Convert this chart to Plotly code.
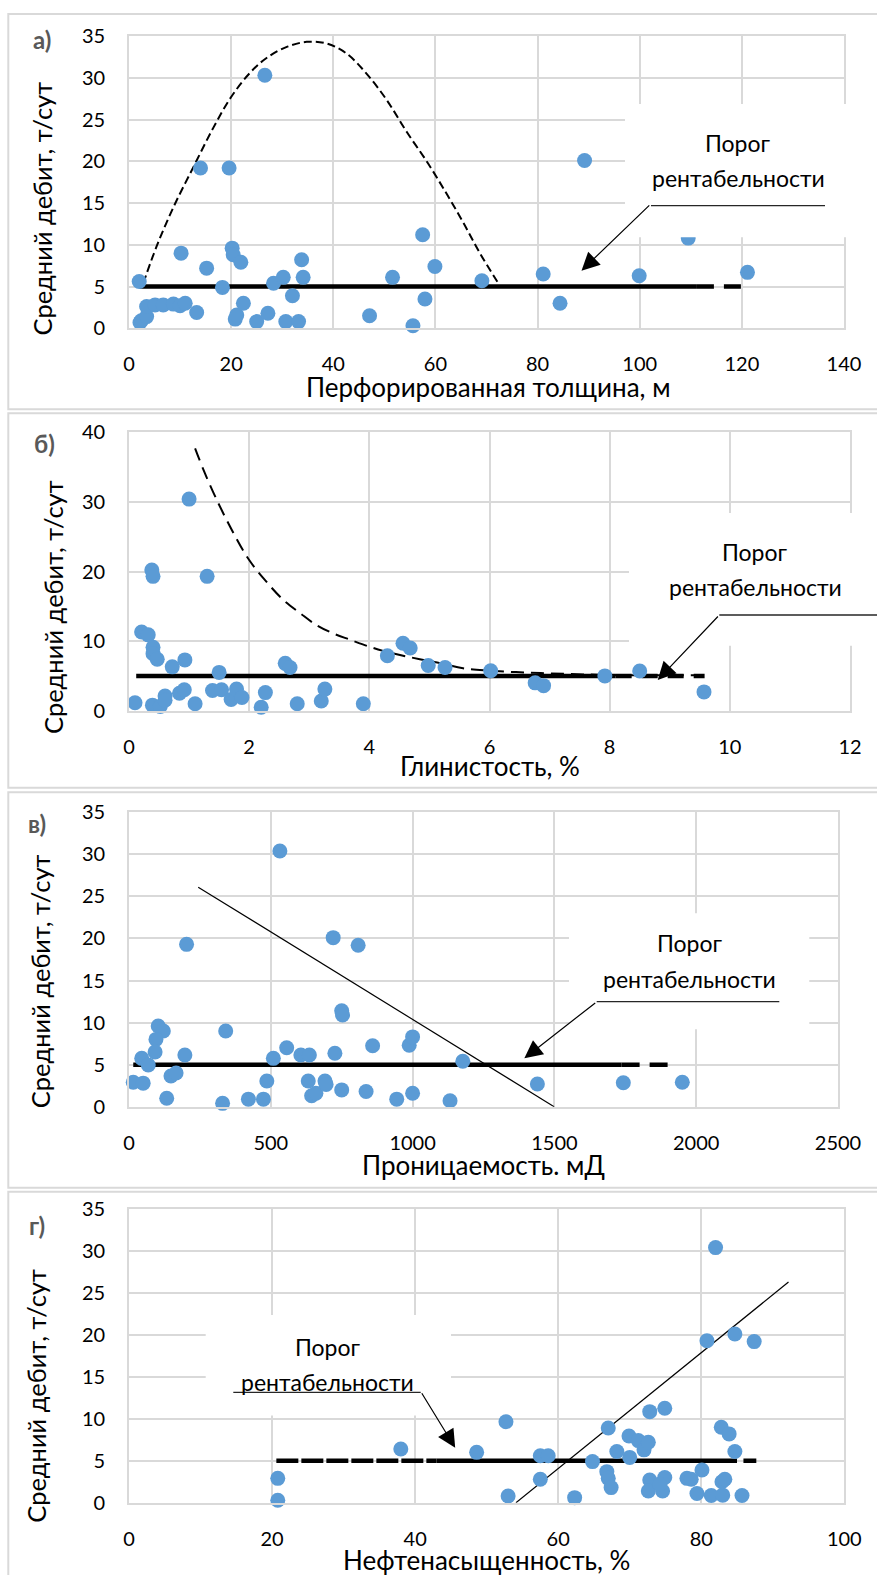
import plotly.graph_objects as go

# ---------------- data ----------------
# a) perforated thickness, m  vs  average rate, t/day
a_x = [2.0, 2.15, 2.4, 3.45, 3.45, 5.1, 6.7, 8.7, 10.0, 11.0, 13.25, 10.2, 14.0, 15.2, 19.6, 18.3,
       20.2, 20.4, 21.9, 20.8, 21.1, 22.4, 26.6, 25.0, 27.2, 28.3, 30.2, 32.0, 30.7, 33.2, 33.8,
       34.1, 47.1, 51.6, 57.5, 57.95, 55.6, 59.9, 69.1, 81.1, 84.4, 89.2, 99.9, 109.5, 121.1]
a_y = [5.6, 0.7, 0.9, 1.4, 2.6, 2.8, 2.8, 2.9, 2.7, 3.0, 1.9, 9.0, 19.2, 7.2, 19.2, 4.9,
       9.6, 8.8, 7.9, 1.1, 1.6, 3.0, 30.3, 0.8, 1.8, 5.4, 6.1, 3.9, 0.8, 0.8, 8.2,
       6.1, 1.5, 6.1, 11.2, 3.5, 0.3, 7.4, 5.7, 6.5, 3.0, 20.1, 6.3, 10.8, 6.7]
a_env_x = [2.8, 5.4, 8.7, 12.6, 16.5, 20.0, 23.7, 27.0, 30.9, 34.8, 38.7, 42.6, 46.5, 50.5,
           54.4, 58.6, 62.2, 65.5, 68.7, 72.3]
a_env_y = [5.4, 9.8, 14.5, 19.3, 24.0, 27.7, 30.6, 32.4, 33.7, 34.3, 34.1, 32.9, 30.5, 27.3,
           23.5, 19.7, 16.1, 12.6, 9.0, 5.4]
a_thr_x = [2.0, 111.2, 121.3]

# б) clay content, %
b_x = [0.1, 0.21, 0.32, 0.38, 0.40, 0.40, 0.40, 0.47, 0.39, 0.52, 0.6, 0.6, 0.72, 0.84, 0.92,
       0.93, 1.0, 1.1, 1.3, 1.39, 1.5, 1.54, 1.7, 1.79, 1.88, 2.2, 2.27, 2.6, 2.68, 2.8, 3.2,
       3.26, 3.9, 4.3, 4.56, 4.68, 4.98, 5.26, 6.02, 6.76, 6.9, 7.92, 8.5, 9.57]
b_y = [1.15, 11.3, 10.9, 20.2, 19.3, 9.1, 8.2, 7.4, 0.8, 0.6, 2.1, 1.5, 6.3, 2.5, 3.0,
       7.3, 30.4, 1.0, 19.3, 2.9, 5.5, 3.0, 1.6, 3.1, 1.9, 0.5, 2.6, 6.8, 6.2, 1.0, 1.4,
       3.1, 1.0, 7.9, 9.7, 9.0, 6.5, 6.2, 5.75, 4.0, 3.6, 5.0, 5.7, 2.7]
b_env_x = [1.10, 1.24, 1.46, 1.74, 2.0, 2.29, 2.57, 2.85, 3.12, 3.40, 3.68, 4.0, 4.23, 4.51,
           4.84, 5.2, 5.56, 6.0, 6.67, 7.34, 8.0, 9.58]
b_env_y = [37.7, 34.6, 30.3, 25.5, 21.65, 18.5, 15.9, 14.0, 12.3, 11.1, 10.2, 9.2, 8.6, 8.0,
           7.4, 6.8, 6.1, 5.75, 5.46, 5.27, 5.13, 5.08]
b_thr_x = [0.12, 8.1, 9.58]

# в) permeability, mD
c_x = [15, 50, 45, 68, 103, 121, 95, 92, 133, 148, 166, 203, 197, 330, 341, 421, 474, 486, 509,
       532, 556, 606, 636, 632, 644, 659, 691, 695, 720, 726, 750, 753, 750, 808, 836, 859, 944,
       988, 1000, 1000, 1132, 1177, 1440, 1743, 1951]
c_y = [2.9, 2.8, 5.75, 4.96, 9.6, 9.0, 8.0, 6.5, 1.0, 3.65, 4.0, 19.3, 6.15, 0.4, 9.0, 0.9, 0.9,
       3.05, 5.75, 30.4, 7.0, 6.15, 6.15, 3.05, 1.3, 1.6, 3.05, 2.65, 20.1, 6.35, 11.4, 10.9, 2.0,
       19.2, 1.8, 7.25, 0.9, 7.3, 8.3, 1.6, 0.7, 5.4, 2.7, 2.85, 2.9]
c_trend_x = [244, 1499]
c_trend_y = [26.1, 0.0]
c_thr_x = [15, 1737, 1933]

# г) oil saturation, %
d_x = [20.8, 20.8, 38.0, 48.6, 52.7, 53.0, 57.5, 58.6, 57.5, 62.3, 64.8, 66.8, 67.0, 67.4, 67.0,
       68.2, 69.9, 70.0, 71.2, 72.0, 72.6, 72.8, 74.9, 72.8, 72.6, 74.6, 74.9, 74.2, 78.0, 78.6,
       80.1, 79.4, 81.4, 83.0, 82.9, 83.3, 85.7, 82.8, 83.9, 84.7, 80.8, 82.0, 84.7, 87.4]
d_y = [2.9, 0.3, 6.4, 6.0, 9.65, 0.8, 5.6, 5.6, 2.8, 0.6, 4.9, 3.7, 2.9, 1.8, 8.9,
       6.1, 7.95, 5.4, 7.4, 6.3, 7.2, 10.85, 11.25, 2.7, 1.4, 1.4, 3.0, 2.2, 2.9, 2.8,
       3.9, 1.1, 0.85, 0.9, 2.5, 2.8, 0.85, 9.0, 8.2, 6.1, 19.3, 30.4, 20.1, 19.2]
d_trend_x = [54.1, 92.2]
d_trend_y = [0.0, 26.3]
d_thr_x = [20.6, 43.0, 85.0, 85.9, 87.7]

threshold = 5.0

x_titles = ["Перфорированная толщина, м", "Глинистость, %", "Проницаемость. мД", "Нефтенасыщенность, %"]
y_title = "Средний дебит, т/сут"
panel_tags = ["а)", "б)", "в)", "г)"]
note_lines = ["Порог", "рентабельности"]

# ---------------- layout helpers ----------------
W, H = 877, 1575
FONT = "Lato"
BLUE = "#5B9BD5"
GRID = "#d9d9d9"


def fx(p):
    return p / W


def fy(p):
    return 1 - p / H


fig = go.Figure()

# plot-area pixel boxes (left, right, top, bottom) and axis settings per panel
panels = [
    dict(box=(129, 844, 36, 328.3), xr=[0, 140], xd=20, yr=[0, 35], yd=5),
    dict(box=(129, 850, 432.3, 710.7), xr=[0, 12], xd=2, yr=[0, 40], yd=10),
    dict(box=(129, 838, 812.3, 1106.7), xr=[0, 2500], xd=500, yr=[0, 35], yd=5),
    dict(box=(129, 844.3, 1209, 1502.7), xr=[0, 100], xd=20, yr=[0, 35], yd=5),
]

for i, p in enumerate(panels, start=1):
    l, r, t, b = p["box"]
    sfx = "" if i == 1 else str(i)
    common = dict(showgrid=True, gridcolor=GRID, gridwidth=1.8, zeroline=False,
                  showline=True, linecolor=GRID, linewidth=1.8, mirror=True,
                  automargin=False, ticks="",
                  tickfont=dict(family=FONT, size=20, color="#000000"))
    fig.layout["xaxis" + sfx] = dict(domain=[fx(l), fx(r)], range=p["xr"], dtick=p["xd"],
                                     tick0=0, anchor="y" + sfx, ticklabelstandoff=17, **common)
    fig.layout["yaxis" + sfx] = dict(domain=[fy(b), fy(t)], range=p["yr"], dtick=p["yd"],
                                     tick0=0, anchor="x" + sfx, ticklabelstandoff=18, **common)


def add_scatter(i, xs, ys):
    sfx = "" if i == 1 else str(i)
    fig.add_trace(go.Scatter(x=xs, y=ys, mode="markers", xaxis="x" + sfx, yaxis="y" + sfx,
                             marker=dict(color=BLUE, size=15, line=dict(width=0)),
                             cliponaxis=False, showlegend=False, hoverinfo="x+y"))


def add_line(i, xs, ys, width, dash="solid", shape="linear"):
    sfx = "" if i == 1 else str(i)
    fig.add_trace(go.Scatter(x=xs, y=ys, mode="lines", xaxis="x" + sfx, yaxis="y" + sfx,
                             line=dict(color="black", width=width, dash=dash, shape=shape),
                             showlegend=False, hoverinfo="skip"))


# a) threshold, envelope, wells
add_line(1, a_thr_x[0:2], [threshold] * 2, 4.5)
add_line(1, a_thr_x[1:3], [threshold] * 2, 4.5, dash="17px,10px")
add_line(1, a_env_x, a_env_y, 2, dash="8px,4px", shape="spline")
add_scatter(1, a_x, a_y)

# б)
add_line(2, b_thr_x[0:2], [threshold] * 2, 4.5)
add_line(2, b_thr_x[1:3], [threshold] * 2, 4.5, dash="16px,10px")
add_line(2, b_env_x, b_env_y, 2, dash="13px,7px", shape="spline")
add_scatter(2, b_x, b_y)

# в)
add_line(3, c_thr_x[0:2], [threshold] * 2, 4.5)
add_line(3, c_thr_x[1:3], [threshold] * 2, 4.5, dash="18px,10px")
add_line(3, c_trend_x, c_trend_y, 1.2)
add_scatter(3, c_x, c_y)

# г)
add_line(4, d_thr_x[0:2], [threshold] * 2, 4.5, dash="22px,3px")
add_line(4, d_thr_x[1:3], [threshold] * 2, 4.5)
add_line(4, d_thr_x[3:5], [threshold] * 2, 4.5)
add_line(4, d_trend_x, d_trend_y, 1.2)
add_scatter(4, d_x, d_y)

shapes = []
annotations = []

# outer frames of the four charts
frames = [(8.3, 14, 890, 409.3), (8.3, 413.3, 890, 787.7),
          (8.3, 792.3, 890, 1187.7), (8.3, 1191.7, 890, 1590)]
for (l, t, r, b) in frames:
    shapes.append(dict(type="rect", xref="paper", yref="paper", x0=fx(l), x1=fx(r),
                       y0=fy(b), y1=fy(t), line=dict(color=GRID, width=2), layer="below"))

# callout boxes: white background, label, underline and arrow
callouts = [
    dict(box=(625, 104, 865, 237.3), l1=(738.3, 143.3), l2=(738.3, 178.3),
         ul=(651, 825, 205.7), tip=(88.6, 6.9), off=(69.3, -66.7), ax="1"),
    dict(box=(629, 513, 880, 645.7), l1=(755, 551.7), l2=(755, 586.7),
         ul=(719.3, 880, 615), tip=(8.80, 4.41), off=(61.6, -65.0), ax="2"),
    dict(box=(569, 913.3, 809.3, 1029.3), l1=(690, 943.3), l2=(689.3, 979),
         ul=(596.7, 779.3, 1001.7), tip=(1394, 5.75), off=(72.4, -56.6), ax="3"),
    dict(box=(205.7, 1315, 451, 1415.5), l1=(328.3, 1346.7), l2=(327.7, 1381.7),
         ul=(233.3, 420.7, 1392.3), tip=(45.6, 6.55), off=(-34.3, -56.0), ax="4"),
]
for c in callouts:
    l, t, r, b = c["box"]
    shapes.append(dict(type="rect", xref="paper", yref="paper", x0=fx(l), x1=fx(r),
                       y0=fy(b), y1=fy(t), fillcolor="white", line=dict(width=0), layer="above"))
    u0, u1, uy = c["ul"]
    shapes.append(dict(type="line", xref="paper", yref="paper", x0=fx(u0), x1=fx(u1),
                       y0=fy(uy), y1=fy(uy), line=dict(color="#262626", width=1.3), layer="above"))
    for (cx, cy), txt in zip([c["l1"], c["l2"]], note_lines):
        annotations.append(dict(text=txt, xref="paper", yref="paper", x=fx(cx), y=fy(cy),
                                xanchor="center", yanchor="middle", showarrow=False,
                                font=dict(family=FONT, size=23, color="black")))
    sfx = "" if c["ax"] == "1" else c["ax"]
    annotations.append(dict(text="", xref="x" + sfx, yref="y" + sfx, x=c["tip"][0], y=c["tip"][1],
                            showarrow=True, arrowhead=2, arrowsize=3.0, arrowwidth=1.2,
                            arrowcolor="black", ax=c["off"][0], ay=c["off"][1], standoff=0))

# axis titles and panel tags
x_title_pos = [(488, 387), (490, 766), (483.8, 1164.6), (486.5, 1560)]
y_title_pos = [(41.5, 209), (53.5, 607.5), (39.5, 981.7), (36, 1395.8)]
tag_pos = [(42, 39), (44.2, 443.3), (36.7, 823.3), (36.7, 1225)]
for k in range(4):
    annotations.append(dict(text=x_titles[k], xref="paper", yref="paper",
                            x=fx(x_title_pos[k][0]), y=fy(x_title_pos[k][1]),
                            xanchor="center", yanchor="middle", showarrow=False,
                            font=dict(family=FONT, size=26, color="black")))
    annotations.append(dict(text=y_title, xref="paper", yref="paper", textangle=-90,
                            x=fx(y_title_pos[k][0]), y=fy(y_title_pos[k][1]),
                            xanchor="center", yanchor="middle", showarrow=False,
                            font=dict(family=FONT, size=25.5, color="black")))
    annotations.append(dict(text="<b>" + panel_tags[k] + "</b>", xref="paper", yref="paper",
                            x=fx(tag_pos[k][0]), y=fy(tag_pos[k][1]),
                            xanchor="center", yanchor="middle", showarrow=False,
                            font=dict(family=FONT, size=24, color="#595959")))

fig.update_layout(width=W, height=H, margin=dict(l=0, r=0, t=0, b=0, pad=0, autoexpand=False),
                  paper_bgcolor="white", plot_bgcolor="white",
                  shapes=shapes, annotations=annotations, showlegend=False,
                  font=dict(family=FONT))

fig.write_html("out.html")
